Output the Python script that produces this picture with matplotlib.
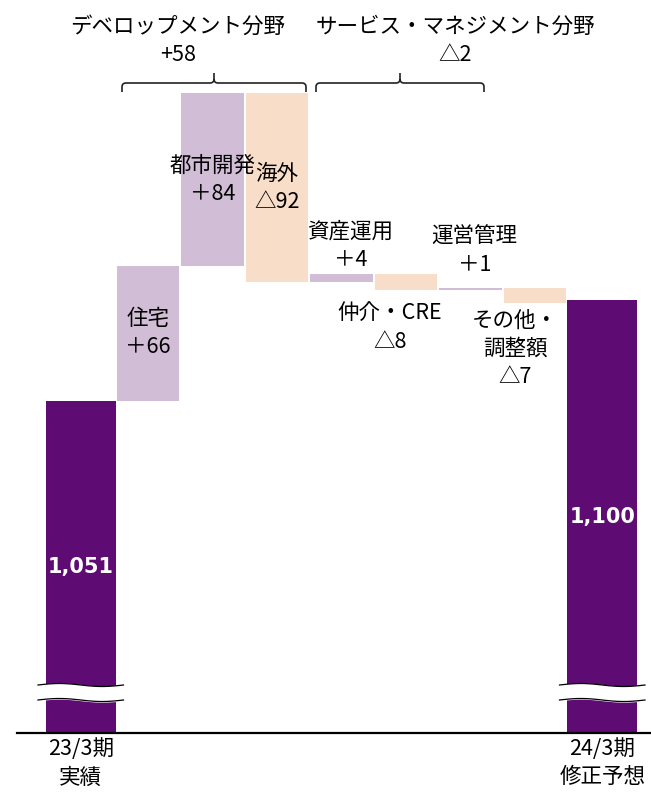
import numpy as np
import matplotlib.pyplot as plt
from matplotlib.path import Path
from matplotlib.patches import PathPatch

plt.rcParams['font.family'] = ['Noto Sans CJK JP', 'DejaVu Sans']

# data
start_label = '23/3期\n実績'
end_label = '24/3期\n修正予想'
start_value = 1051
end_value = 1100
step_names = ['住宅', '都市開発', '海外', '資産運用', '仲介・CRE', '運営管理', 'その他・\n調整額']
step_values = [66, 84, -92, 4, -8, 1, -7]
group_names = ['デベロップメント分野', 'サービス・マネジメント分野']
group_values = [58, -2]

dark = '#5E0C73'
up_color = '#D1BDD6'
down_color = '#F8DDC8'

W, H = 651, 796
px_step = 64.5      # pixels per category
x_origin = 83.5     # pixel of category 0
base_row = 733      # pixel row of the baseline
s = 2.05            # pixels per unit
base_val = 889      # value at the (broken) baseline


def col(px):
    return (px - x_origin) / px_step


def val(row):
    return base_val + (base_row - row) / s


def fmt(v, wide=True):
    if v < 0:
        return '△' + str(-v)
    return ('＋' if wide else '+') + str(v)


fig = plt.figure(figsize=(W / 100, H / 100), dpi=100)
ax = fig.add_axes([0, 0, 1, 1])
ax.axis('off')
ax.set_xlim(col(0), col(W))
ax.set_ylim(val(H), val(0))

# step bars
steps = np.array(step_values)
tops = start_value + np.cumsum(steps)
bottoms = tops - steps
idx = np.arange(1, len(steps) + 1)
colors = [up_color if v > 0 else down_color for v in steps]
ax.bar(idx, steps, bottom=bottoms, width=0.975, color=colors, zorder=2)

# end bars
end_w = 70 / px_step
ends_x = [0.5 - end_w, len(steps) + 0.5]
ends_v = [start_value, end_value]
ax.bar(ends_x, [v - base_val for v in ends_v], bottom=base_val, width=end_w,
       align='edge', color=dark, zorder=2)

for x, v in zip(ends_x, ends_v):
    ax.text(x + end_w / 2, (base_val + v) / 2, f'{v:,}', color='white',
            fontsize=15, fontweight='bold', family='DejaVu Sans',
            ha='center', va='center', zorder=5)
    # axis break
    xs = np.linspace(x - 0.12, x + end_w + 0.12, 60)
    wave = 1.5 / s * np.sin(2 * np.pi * (xs - xs[0]) / (xs[-1] - xs[0]))
    lo = val(700) + wave
    hi = val(685) + wave
    ax.fill_between(xs, lo, hi, color='white', zorder=3)
    ax.plot(xs, lo, color='black', lw=0.9, zorder=4)
    ax.plot(xs, hi, color='black', lw=0.9, zorder=4)

# baseline
ax.plot([col(17), col(W)], [base_val, base_val], color='black', lw=1.6, zorder=4)

# x labels
fs = 15.5
ls = 1.38
for x, lab in zip(ends_x, [start_label, end_label]):
    ax.text(x + end_w / 2, val(738), lab, ha='center', va='top',
            fontsize=fs, linespacing=ls)

# step labels
place = ['in', 'in', 'in', 'above', 'below', 'above', 'below']
offsets = [(0, 0), (0, 0), (0, 0), (9, 3), (-16, -12), (4, 12), (-20, -7)]
for i, (name, v) in enumerate(zip(step_names, step_values)):
    text = f'{name}\n{fmt(v)}'
    if place[i] == 'in':
        ax.text(idx[i], (tops[i] + bottoms[i]) / 2, text, ha='center',
                va='center', fontsize=fs, linespacing=ls, zorder=5)
    elif place[i] == 'above':
        ax.annotate(text, xy=(idx[i], max(tops[i], bottoms[i])),
                    xytext=offsets[i], textcoords='offset pixels',
                    ha='center', va='bottom', fontsize=fs, linespacing=ls)
    else:
        ax.annotate(text, xy=(idx[i], min(tops[i], bottoms[i])),
                    xytext=offsets[i], textcoords='offset pixels',
                    ha='center', va='top', fontsize=fs, linespacing=ls)

# group braces and labels
brace_px = [(122, 306), (316, 484)]
group_text_px = [178, 455]
rx, ry = 4 / px_step, 4 / s
yb, ym, yt = val(92), val(83), val(73)
for (p0, p1), tx, name, gv in zip(brace_px, group_text_px, group_names, group_values):
    x0, x1 = col(p0), col(p1)
    xc = (x0 + x1) / 2
    verts = [(x0, yb), (x0, ym - ry), (x0, ym), (x0 + rx, ym), (xc - rx, ym),
             (xc, ym), (xc, ym + ry), (xc, yt),
             (xc, ym + ry), (xc, ym), (xc + rx, ym), (x1 - rx, ym),
             (x1, ym), (x1, ym - ry), (x1, yb)]
    codes = [Path.MOVETO, Path.LINETO, Path.CURVE3, Path.CURVE3, Path.LINETO,
             Path.CURVE3, Path.CURVE3, Path.LINETO,
             Path.MOVETO, Path.CURVE3, Path.CURVE3, Path.LINETO,
             Path.CURVE3, Path.CURVE3, Path.LINETO]
    ax.add_patch(PathPatch(Path(verts, codes), fill=False, lw=1.2, color='#222222'))
    ax.text(col(tx), val(41), f'{name}\n{fmt(gv, wide=False)}', ha='center',
            va='center', fontsize=fs, linespacing=ls)

fig.savefig('out.png', dpi=100)
